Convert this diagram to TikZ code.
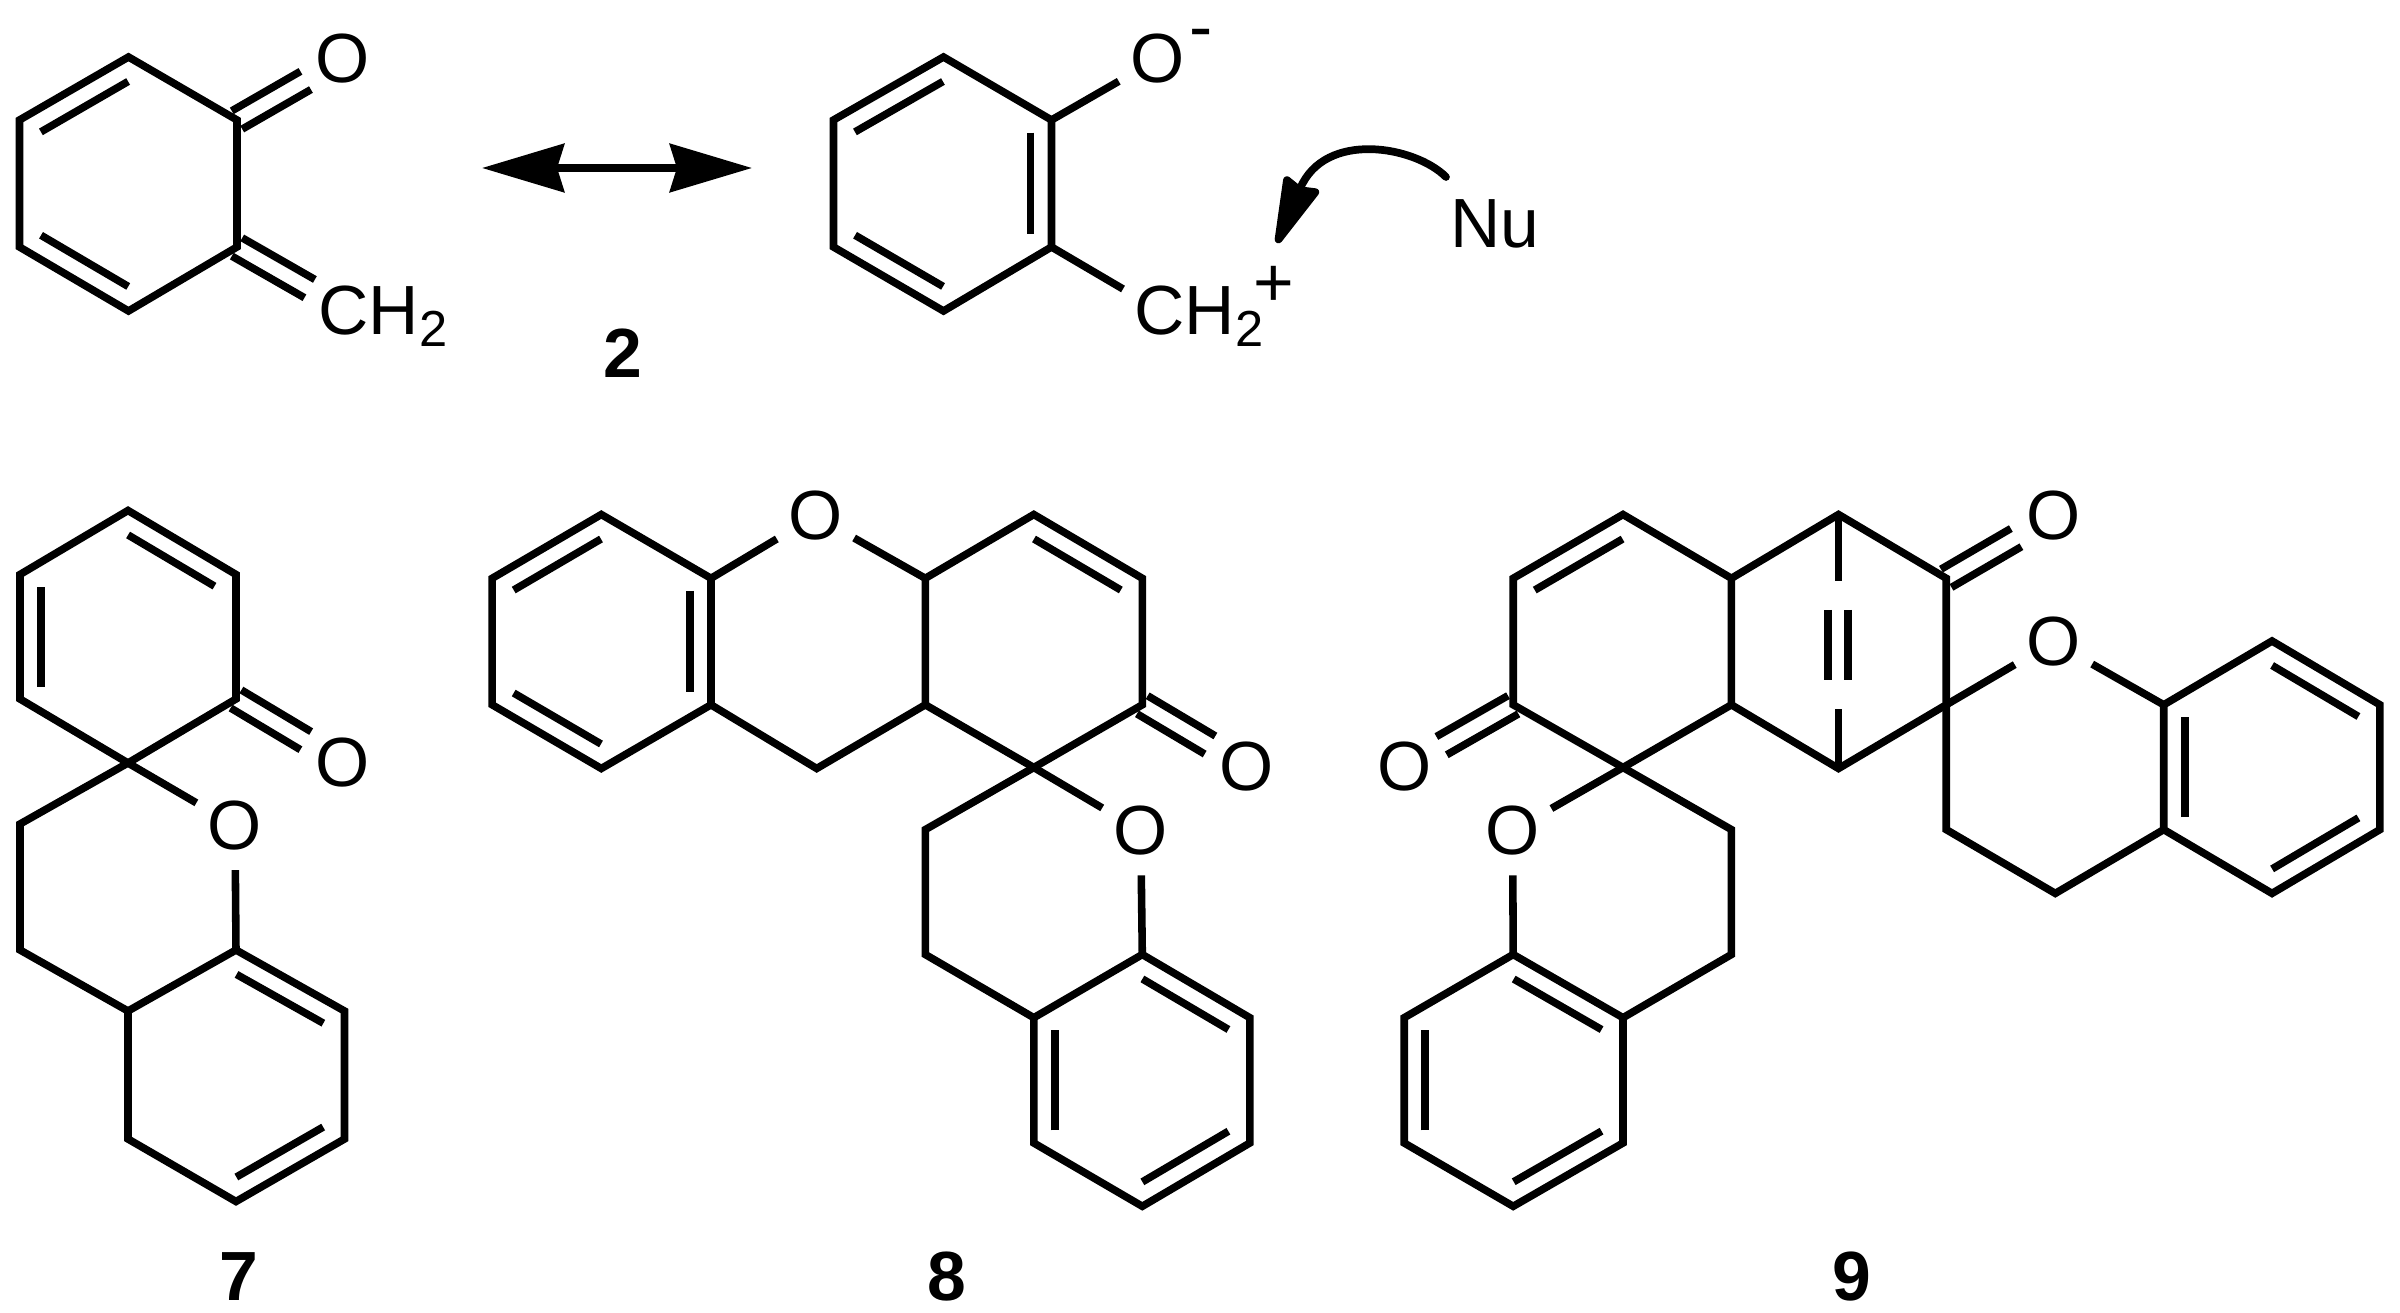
\documentclass[tikz,border=0pt]{standalone}
\usepackage{fontspec}
\setmainfont{Liberation Sans}
\usepackage{xcolor}
\usepackage{tikz}
\usetikzlibrary{arrows.meta,
                calc,
                positioning}
\tikzstyle{bond} = [line width=2.15pt]
\tikzstyle{atom} = [circle,inner sep=0pt,minimum size=0.88cm,font=\fontsize{19.8}{23}\selectfont]
\tikzstyle{group} = [inner sep=0pt,font=\fontsize{19.8}{23}\selectfont]
\tikzstyle{compound} = [inner sep=0pt,anchor=base,font=\fontsize{19.8}{23}\selectfont\bfseries]
\tikzstyle{resonance} = [line width=2.15pt,{Stealth[length=0.82cm,width=0.48cm,inset=0.07cm]}-{Stealth[length=0.82cm,width=0.48cm,inset=0.07cm]}]
\tikzstyle{curlyarrow} = [line width=2.2pt,line cap=round,-{Stealth[round,length=0.78cm,width=0.4cm,inset=0.05cm]}]
\newcommand{\chtwo}{CH\raisebox{-3.4pt}{\fontsize{14.4}{14.4}\selectfont 2}}
\newcommand{\innerbond}[2]{\draw[bond] ($(#1)!0.1!(#2)!0.21cm!-90:(#2)$) -- ($(#2)!0.1!(#1)!0.21cm!90:(#1)$);}
\newcommand{\twinbond}[2]{
    \draw[bond,shorten >=0.43cm] ($(#1)!0.105cm!90:(#2)$) -- ($(#2)!0.105cm!-90:(#1)$);
    \draw[bond,shorten >=0.43cm] ($(#1)!0.105cm!-90:(#2)$) -- ($(#2)!0.105cm!90:(#1)$);}
\begin{document}
\begin{tikzpicture}[x=0.01cm,y=-0.01cm]
        \useasboundingbox (0,0) rectangle (2400,1313);

        \coordinate (ra1) at (128.5,57);
        \coordinate (ra2) at (237,120);
        \coordinate (ra3) at (237,247);
        \coordinate (ra4) at (128.5,311);
        \coordinate (ra5) at (19.5,247);
        \coordinate (ra6) at (19.5,120);
        \coordinate (ca) at (347,310);
        \node[atom] (oa) at (343,59) {O};
        \node[group,anchor=base west] (cha) at (318,335) {\chtwo};
        \draw[bond] (ra1) -- (ra2) -- (ra3) -- (ra4) -- (ra5) -- (ra6) -- cycle;
        \innerbond{ra6}{ra1}
        \innerbond{ra4}{ra5}
        \twinbond{ra2}{oa}
        \twinbond{ra3}{ca}

        \coordinate (resl) at (482,168);
        \coordinate (resr) at (752,168);
        \draw[resonance] (resl) -- (resr);
        \node[compound] (lab2) at (623,378) {2};

        \coordinate (rb1) at (943.5,57);
        \coordinate (rb2) at (1051.5,120);
        \coordinate (rb3) at (1051.5,247);
        \coordinate (rb4) at (943.5,311);
        \coordinate (rb5) at (833.5,247);
        \coordinate (rb6) at (833.5,120);
        \coordinate (cb) at (1123,289);
        \node[atom] (ob) at (1157.5,59) {O};
        \node[group,anchor=base] (minus) at (1201,51) {-};
        \node[group,anchor=base west] (chb) at (1134,335) {\chtwo};
        \node[group,anchor=base] (plus) at (1274,307) {+};
        \node[group,anchor=base west] (nu) at (1449.5,248) {Nu};
        \draw[bond] (rb1) -- (rb2) -- (rb3) -- (rb4) -- (rb5) -- (rb6) -- cycle;
        \innerbond{rb6}{rb1}
        \innerbond{rb2}{rb3}
        \innerbond{rb4}{rb5}
        \draw[bond] (rb2) -- (ob);
        \draw[bond] (rb3) -- (cb);
        \coordinate (nustart) at (1446,177);
        \coordinate (nutip) at (1277,243);
        \draw[curlyarrow] (nustart) .. controls (1415,146) and (1325,130) .. (nutip);

        \coordinate (sa1) at (128,510.5);
        \coordinate (sa2) at (236,574.5);
        \coordinate (sa3) at (236,699);
        \coordinate (sa4) at (128,763);
        \coordinate (sa5) at (20,699);
        \coordinate (sa6) at (20,574.5);
        \coordinate (sa7) at (20,824);
        \coordinate (sa8) at (20,950);
        \coordinate (sa9) at (128,1011);
        \coordinate (sa10) at (236,950);
        \coordinate (sa11) at (344.5,1011);
        \coordinate (sa12) at (344.5,1139);
        \coordinate (sa13) at (236,1201.5);
        \coordinate (sa14) at (128,1139);
        \node[atom] (oc) at (342.7,762.7) {O};
        \node[atom] (od) at (235,825.4) {O};
        \draw[bond] (sa1) -- (sa2) -- (sa3) -- (sa4) -- (sa5) -- (sa6) -- cycle;
        \draw[bond] (sa9) -- (sa10) -- (sa11) -- (sa12) -- (sa13) -- (sa14) -- cycle;
        \draw[bond] (od) -- (sa4) -- (sa7) -- (sa8) -- (sa9);
        \draw[bond] (sa10) -- (od);
        \innerbond{sa1}{sa2}
        \innerbond{sa5}{sa6}
        \innerbond{sa10}{sa11}
        \innerbond{sa12}{sa13}
        \twinbond{sa3}{oc}
        \node[compound] (lab7) at (239,1300) {7};

        \coordinate (ta1) at (601.3,514.5);
        \coordinate (ta2) at (711,578.3);
        \coordinate (ta3) at (711,704.8);
        \coordinate (ta4) at (601.3,768.5);
        \coordinate (ta5) at (492.2,704.8);
        \coordinate (ta6) at (492.2,578.3);
        \coordinate (tb1) at (925.3,578.3);
        \coordinate (tb2) at (925.3,704.8);
        \coordinate (tb3) at (816.7,768.5);
        \coordinate (tc1) at (1033.8,514.5);
        \coordinate (tc2) at (1142.3,578.3);
        \coordinate (tc3) at (1142.3,704.8);
        \coordinate (tc4) at (1033.8,767.5);
        \coordinate (td1) at (925.3,829.6);
        \coordinate (td2) at (925.3,954.5);
        \coordinate (te1) at (1142.3,954.5);
        \coordinate (te2) at (1249.8,1017.7);
        \coordinate (te3) at (1249.8,1143);
        \coordinate (te4) at (1142.3,1206.3);
        \coordinate (te5) at (1033.8,1143);
        \coordinate (te6) at (1033.8,1017.7);
        \node[atom] (oe) at (815.2,516) {O};
        \node[atom] (of) at (1247,767) {O};
        \node[atom] (og) at (1140.7,830.7) {O};
        \draw[bond] (ta1) -- (ta2) -- (ta3) -- (ta4) -- (ta5) -- (ta6) -- cycle;
        \draw[bond] (tb1) -- (tc1) -- (tc2) -- (tc3) -- (tc4) -- (tb2) -- cycle;
        \draw[bond] (te1) -- (te2) -- (te3) -- (te4) -- (te5) -- (te6) -- cycle;
        \draw[bond] (ta2) -- (oe);
        \draw[bond] (oe) -- (tb1);
        \draw[bond] (ta3) -- (tb3) -- (tb2);
        \draw[bond] (tc4) -- (td1) -- (td2) -- (te6);
        \draw[bond] (tc4) -- (og);
        \draw[bond] (og) -- (te1);
        \innerbond{ta6}{ta1}
        \innerbond{ta2}{ta3}
        \innerbond{ta4}{ta5}
        \innerbond{tc1}{tc2}
        \innerbond{te1}{te2}
        \innerbond{te3}{te4}
        \innerbond{te5}{te6}
        \twinbond{tc3}{of}
        \node[compound] (lab8) at (947,1300) {8};

        \coordinate (ua1) at (1623,514.5);
        \coordinate (ua2) at (1731.4,578.3);
        \coordinate (ua3) at (1731.4,704.8);
        \coordinate (ua4) at (1623,767.5);
        \coordinate (ua5) at (1513.2,704.8);
        \coordinate (ua6) at (1513.2,578.3);
        \coordinate (ub1) at (1838.5,514.5);
        \coordinate (ub2) at (1946.2,578.3);
        \coordinate (ub3) at (1946.2,704.8);
        \coordinate (ub4) at (1838.5,768.5);
        \coordinate (ub5) at (1838.5,581);
        \coordinate (ub6) at (1838.5,709.5);
        \coordinate (ub7) at (1828,610);
        \coordinate (ub8) at (1828,680);
        \coordinate (ub9) at (1848,610);
        \coordinate (ub10) at (1848,680);
        \coordinate (uc1) at (1731.4,829.6);
        \coordinate (uc2) at (1731.4,954.5);
        \coordinate (uc3) at (1623,1017.7);
        \coordinate (uc4) at (1513.2,954.5);
        \coordinate (uc5) at (1404.2,1017.7);
        \coordinate (uc6) at (1404.2,1143);
        \coordinate (uc7) at (1513.2,1206.3);
        \coordinate (uc8) at (1623,1143);
        \coordinate (ud1) at (1946.2,829.6);
        \coordinate (ud2) at (2055.3,893.4);
        \coordinate (ud3) at (2163.7,829.6);
        \coordinate (ud4) at (2163.7,704.8);
        \coordinate (ud5) at (2272,641);
        \coordinate (ud6) at (2379.9,704.8);
        \coordinate (ud7) at (2379.9,829.6);
        \coordinate (ud8) at (2272,893.4);
        \node[atom] (oh) at (2053.3,516) {O};
        \node[atom] (oi) at (1404.2,767) {O};
        \node[atom] (oj) at (1512.6,830.7) {O};
        \node[atom] (ok) at (2053.3,642) {O};
        \draw[bond] (ua1) -- (ua2) -- (ua3) -- (ua4) -- (ua5) -- (ua6) -- cycle;
        \draw[bond] (ua2) -- (ub1) -- (ub2) -- (ub3) -- (ub4) -- (ua3);
        \draw[bond] (ub1) -- (ub5);
        \draw[bond] (ub6) -- (ub4);
        \draw[bond] (ub7) -- (ub8);
        \draw[bond] (ub9) -- (ub10);
        \draw[bond] (ua4) -- (oj);
        \draw[bond] (oj) -- (uc4);
        \draw[bond] (ua4) -- (uc1) -- (uc2) -- (uc3);
        \draw[bond] (uc3) -- (uc4) -- (uc5) -- (uc6) -- (uc7) -- (uc8) -- cycle;
        \draw[bond] (ub3) -- (ok);
        \draw[bond] (ok) -- (ud4);
        \draw[bond] (ub3) -- (ud1) -- (ud2) -- (ud3);
        \draw[bond] (ud3) -- (ud4) -- (ud5) -- (ud6) -- (ud7) -- (ud8) -- cycle;
        \innerbond{ua6}{ua1}
        \innerbond{uc4}{uc3}
        \innerbond{uc8}{uc7}
        \innerbond{uc6}{uc5}
        \innerbond{ud3}{ud4}
        \innerbond{ud5}{ud6}
        \innerbond{ud7}{ud8}
        \twinbond{ub2}{oh}
        \twinbond{ua5}{oi}
        \node[compound] (lab9) at (1851.5,1300) {9};
\end{tikzpicture}
\end{document}
